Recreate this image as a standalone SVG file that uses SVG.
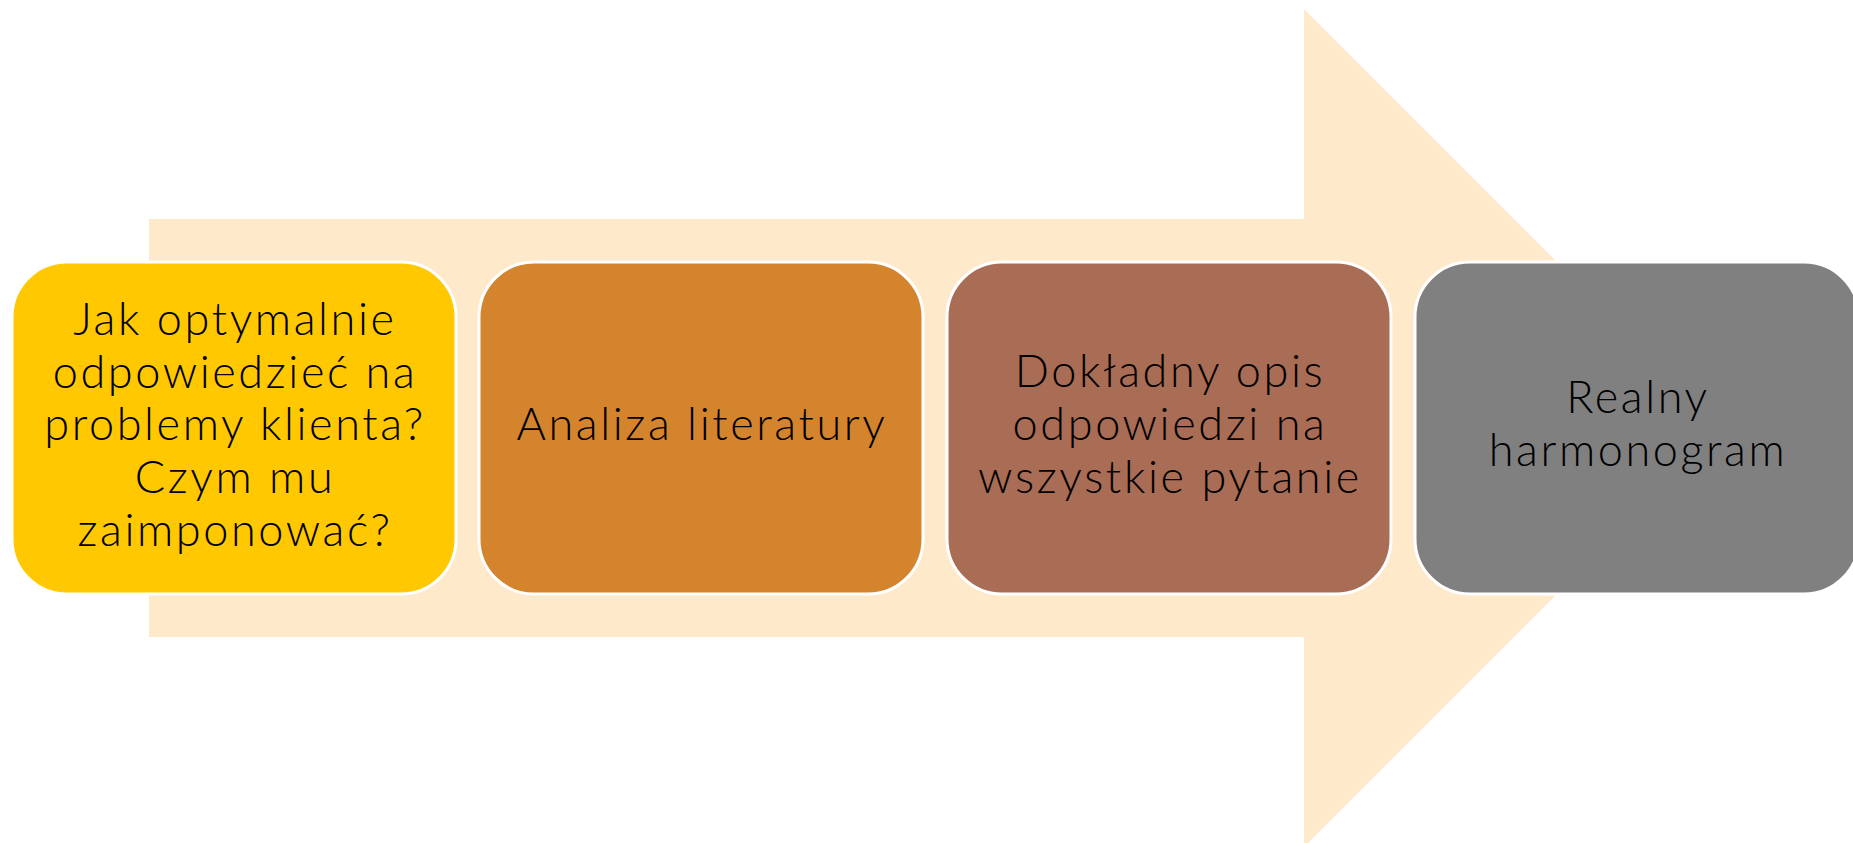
<svg xmlns="http://www.w3.org/2000/svg" width="1853" height="843" viewBox="0 0 1853 843">
<style>
.box{stroke:#FFFFFF;stroke-width:3}
.t{font-family:"Lato","Noto Sans","DejaVu Sans",sans-serif;font-size:45px;fill:#000000;text-anchor:middle;font-weight:300;letter-spacing:2.6px}
</style>
<rect width="1853" height="843" fill="#FFFFFF"/>
<g id="arrow">
<polygon points="149,219 1304,219 1304,9 1723,428 1304,847 1304,637 149,637" fill="#FFE9CB"/>
</g>
<g id="connectors"></g>
<g id="node1">
<rect class="box" x="12" y="262" width="444" height="332" rx="55" ry="55" fill="#FFC800"/>
<text class="t"><tspan x="235" y="335">Jak optymalnie</tspan><tspan x="235" y="387.5">odpowiedzieć na</tspan><tspan x="235" y="440">problemy klienta?</tspan><tspan x="235" y="493">Czym mu</tspan><tspan x="235" y="546">zaimponować?</tspan></text>
</g>
<g id="node2">
<rect class="box" x="479" y="262" width="444" height="332" rx="55" ry="55" fill="#D4842C"/>
<text class="t" x="702" y="440">Analiza literatury</text>
</g>
<g id="node3">
<rect class="box" x="947" y="262" width="444" height="332" rx="55" ry="55" fill="#A96C55"/>
<text class="t"><tspan x="1170" y="387">Dokładny opis</tspan><tspan x="1170" y="440">odpowiedzi na</tspan><tspan x="1170" y="493">wszystkie pytanie</tspan></text>
</g>
<g id="node4">
<rect class="box" x="1415" y="262" width="444" height="332" rx="55" ry="55" fill="#808080"/>
<text class="t"><tspan x="1638" y="413">Realny</tspan><tspan x="1638" y="466">harmonogram</tspan></text>
</g>
</svg>
